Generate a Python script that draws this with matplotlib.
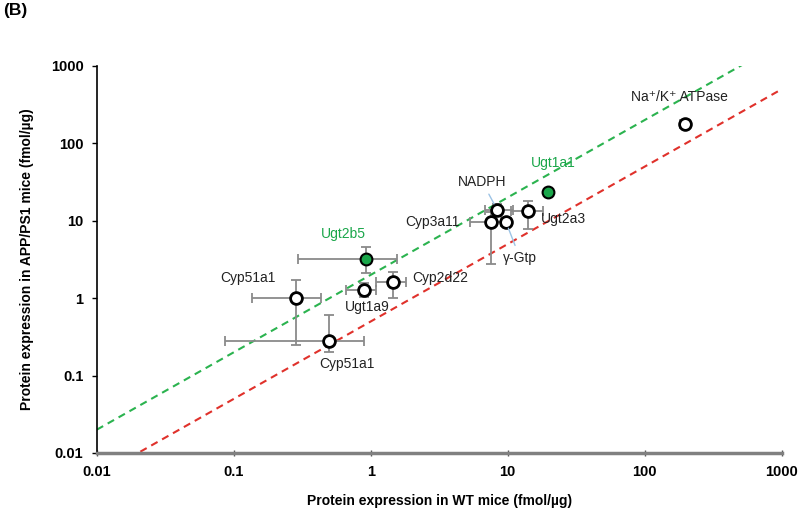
import numpy as np
import matplotlib.pyplot as plt

plt.rcParams['font.family'] = ['Liberation Sans', 'DejaVu Sans']

# proteins (WT vs APP/PS1), fmol/ug
names = ['Na\u207a/K\u207a ATPase', 'Ugt1a1', 'NADPH', 'Ugt2a3', 'Cyp3a11', '\u03b3-Gtp',
         'Ugt2b5', 'Cyp51a1', 'Ugt1a9', 'Cyp2d22', 'Cyp51a1']
wt = np.array([196, 19.6, 8.4, 14.1, 7.5, 9.7, 0.93, 0.287, 0.89, 1.46, 0.50])
app = np.array([177, 23.6, 13.8, 13.4, 9.7, 9.7, 3.25, 1.0, 1.28, 1.61, 0.28])
wt_lo = np.array([180, 19.6, 6.8, 10.6, 5.3, 9.0, 0.294, 0.135, 0.665, 1.1, 0.086])
wt_hi = np.array([215, 19.6, 11.0, 18.0, 9.5, 10.5, 1.56, 0.436, 1.1, 1.8, 0.90])
app_lo = np.array([170, 23.6, 11.5, 7.8, 2.8, 8.5, 2.1, 0.25, 1.03, 1.0, 0.20])
app_hi = np.array([185, 23.6, 16.5, 18.2, 13.0, 11.0, 4.6, 1.72, 1.57, 2.16, 0.61])
changed = np.array([False, True, False, False, False, False, True, False, False, False, False])

# label offsets (pixels) from each point
lab_dx = [-5, 6, -15, 35, -58, 14, -23, -49, 3, 47, 17]
lab_dy = [27, 29, 28, -8, 0, -36, 25, 20, -17, 4, -23]
leader = [False, False, True, False, False, True, False, False, False, False, False]

green = '#1aa64a'
fig = plt.figure(figsize=(8, 5.14), dpi=100)
ax = fig.add_axes([0.121, 0.1187, 0.856, 0.753])
ax.set_xscale('log')
ax.set_yscale('log')
ax.set_xlim(0.01, 1000)
ax.set_ylim(0.01, 1000)

# 2-fold boundary lines
xl = np.array([0.01, 1000])
ax.plot(xl, 2 * xl, ls=(0, (3.5, 2.5)), color='#2bb34f', lw=1.5, zorder=1)
ax.plot(xl, 0.5 * xl, ls=(0, (3.5, 2.5)), color='#e0312b', lw=1.5, zorder=1)

ax.errorbar(wt, app, xerr=[wt - wt_lo, wt_hi - wt], yerr=[app - app_lo, app_hi - app],
            fmt='none', ecolor='#8a8a8a', elinewidth=1.3, capsize=3.5, capthick=1.3, zorder=2)
ax.scatter(wt[~changed], app[~changed], s=72, facecolor='white', edgecolor='black',
           linewidth=2, zorder=3)
ax.scatter(wt[changed], app[changed], s=72, facecolor=green, edgecolor='black',
           linewidth=1.5, zorder=3)

for i, nm in enumerate(names):
    col = green if changed[i] else '#222222'
    ap = None
    if leader[i]:
        ap = dict(arrowstyle='-', color='#9cc3e5', lw=1.0, shrinkA=2, shrinkB=5)
    ax.annotate(nm, (wt[i], app[i]), xytext=(lab_dx[i], lab_dy[i]), textcoords='offset pixels',
                ha='center', va='center', fontsize=10, color=col, arrowprops=ap, zorder=4)

ticks = [0.01, 0.1, 1, 10, 100, 1000]
tick_labels = ['0.01', '0.1', '1', '10', '100', '1000']
ax.set_xticks(ticks)
ax.set_xticklabels(tick_labels)
ax.set_yticks(ticks)
ax.set_yticklabels(tick_labels)
ax.minorticks_off()
for lab in ax.get_xticklabels() + ax.get_yticklabels():
    lab.set_fontweight('bold')
    lab.set_fontsize(10.5)
ax.tick_params(axis='y', direction='out', length=3.6, width=1, pad=6)
ax.tick_params(axis='x', direction='inout', length=5, width=1, pad=6, color='#555555')

ax.spines['top'].set_visible(False)
ax.spines['right'].set_visible(False)
ax.spines['left'].set_linewidth(1.2)
ax.spines['bottom'].set_color('#808080')
ax.spines['bottom'].set_linewidth(2.5)

ax.set_xlabel('Protein expression in WT mice (fmol/\u00b5g)', fontsize=10, fontweight='bold', labelpad=11)
ax.set_ylabel('Protein expression in APP/PS1 mice (fmol/\u00b5g)', fontsize=10, fontweight='bold', labelpad=12)
fig.text(0.004, 0.995, '(B)', fontsize=12.5, fontweight='bold', va='top', ha='left')

fig.savefig('out.png', dpi=100)
